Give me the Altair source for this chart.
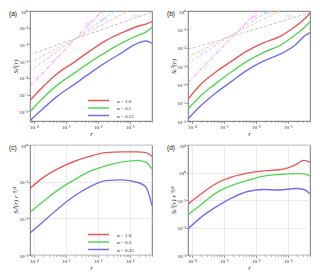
import altair as alt
import pandas as pd

# ---------------- data ----------------
r = [7.6e-5, 1.8e-4, 5.6e-4, 1.8e-3, 5.6e-3, 0.018, 0.056, 0.18, 0.32, 0.5]
series_names = ["α = 1.0", "α = 0.5", "α = 0.25"]
series_colors = ["#ee5656", "#55d655", "#6f6ff2"]

# (a) S_L^2(r)
a_red = [4.5e-6, 2.6e-5, 1.9e-4, 8.5e-4, 4.0e-3, 1.7e-2, 4.9e-2, 0.123, 0.166, 0.234]
a_green = [9.5e-7, 5.5e-6, 4.0e-5, 1.9e-4, 8.5e-4, 3.5e-3, 1.2e-2, 3.5e-2, 5.5e-2, 0.107]
a_blue = [2.8e-7, 1.3e-6, 8.5e-6, 4.0e-5, 1.9e-4, 8.5e-4, 3.2e-3, 1.2e-2, 1.6e-2, 1.2e-2]
# (b) S_T^2(r)
b_red = [1.5e-5, 9.1e-5, 4.7e-4, 1.9e-3, 6.9e-3, 1.9e-2, 4.0e-2, 0.151, 0.339, 0.759]
b_green = [4.5e-6, 2.2e-5, 1.1e-4, 5.0e-4, 1.9e-3, 5.6e-3, 1.3e-2, 5.2e-2, 0.117, 0.263]
b_blue = [1.3e-6, 6.2e-6, 3.4e-5, 1.5e-4, 6.2e-4, 1.9e-3, 4.3e-3, 1.5e-2, 4.0e-2, 6.6e-2]
# (c) S_L^2(r) r^-2/3
c_red = [0.065, 0.123, 0.224, 0.355, 0.49, 0.62, 0.65, 0.65, 0.62, 0.49]
c_green = [0.0145, 0.027, 0.059, 0.11, 0.19, 0.27, 0.34, 0.38, 0.34, 0.224]
c_blue = [0.004, 0.0076, 0.018, 0.04, 0.072, 0.107, 0.112, 0.095, 0.072, 0.0224]
# (d) S_T^2(r) r^-2/3
d_red = [0.071, 0.155, 0.39, 0.69, 0.95, 1.15, 1.26, 1.95, 2.75, 2.4]
d_green = [0.029, 0.063, 0.178, 0.34, 0.52, 0.74, 0.85, 0.91, 0.89, 0.74]
d_blue = [0.0089, 0.022, 0.055, 0.12, 0.204, 0.24, 0.23, 0.263, 0.24, 0.17]

# reference power-law guide lines (endpoints) and their labels
guide_labels = ["r²", "r⁴/³", "r", "r²/³"]
guide_colors = ["#ff77ff", "#a9d2ff", "#ffc796", "#c4c4c4"]
a_guide_x0 = [7.6e-5, 7.6e-5, 7.6e-5, 7.6e-5]
a_guide_y0 = [3.2e-5, 2.8e-4, 8.3e-4, 2.5e-3]
a_guide_x1 = [0.0135, 0.035, 0.091, 0.5]
a_guide_y1 = [1.0, 1.0, 1.0, 0.87]
a_glab_x = [0.0047, 0.015, 0.038, 0.15]
a_glab_y = [0.16, 0.31, 0.46, 0.51]
b_guide_x0 = [7.6e-5, 7.6e-5, 7.6e-5, 7.6e-5]
b_guide_y0 = [1.26e-4, 1.4e-3, 3.1e-3, 7.9e-3]
b_guide_x1 = [0.0115, 0.025, 0.056, 0.5]
b_guide_y1 = [1.0, 1.0, 1.0, 0.81]
b_glab_x = [0.0091, 0.024, 0.05, 0.11]
b_glab_y = [0.45, 0.76, 0.76, 0.55]

x_domain = [7.6e-5, 0.5]
x_ticks = [1e-4, 1e-3, 1e-2, 1e-1]
x_tick_labels = ["10⁻⁴", "10⁻³", "10⁻²", "10⁻¹"]
a_y_domain = [2.7e-7, 1.0]
b_y_domain = [1e-6, 1.0]
ab_y_ticks = [1e-6, 1e-5, 1e-4, 1e-3, 1e-2, 1e-1, 1.0]
ab_y_labels = ["10⁻⁶", "10⁻⁵", "10⁻⁴", "10⁻³", "10⁻²", "10⁻¹", "10⁰"]
c_y_domain = [1e-3, 1.0]
c_y_ticks = [1e-3, 1e-2, 1e-1, 1.0]
c_y_labels = ["10⁻³", "10⁻²", "10⁻¹", "10⁰"]
d_y_domain = [1e-3, 10.0]
d_y_ticks = [1e-3, 1e-2, 1e-1, 1.0, 10.0]
d_y_labels = ["10⁻³", "10⁻²", "10⁻¹", "10⁰", "10¹"]

titles = {
    "a": "Sₗ²(r)",
    "b": "Sₜ²(r)",
    "c": "Sₗ²(r) r⁻²/³",
    "d": "Sₜ²(r) r⁻²/³",
}

# ---------------- layout / style ----------------
W, H = 122, 110
SERIF = "Liberation Serif"


def label_expr(vals, labs):
    parts = [f"abs(datum.value - {v}) < {v * 1e-6} ? '{l}'" for v, l in zip(vals, labs)]
    return " : ".join(parts) + " : ''"


def major_test(vals):
    return " || ".join(f"abs(datum.value - {v}) < {v * 1e-6}" for v in vals)


x_all_ticks = []
for dec in [1e-5, 1e-4, 1e-3, 1e-2, 1e-1]:
    for k in range(1, 10):
        v = dec * k
        if x_domain[0] <= v <= x_domain[1]:
            x_all_ticks.append(v)


def panel(tag, ys, y_domain, y_ticks, y_labels, grid, guides=None, legend_xy=(69, 89)):
    rows = []
    for name, vals in zip(series_names, ys):
        for rv, yv in zip(r, vals):
            rows.append({"r": rv, "v": yv, "s": name})
    df = pd.DataFrame(rows)

    xax = alt.Axis(
        values=x_all_ticks,
        labelExpr=label_expr(x_ticks, x_tick_labels),
        title="r",
        tickSize={"condition": {"test": major_test(x_ticks), "value": 2.5}, "value": 1.2},
        grid=grid,
        gridOpacity={"condition": {"test": major_test(x_ticks), "value": 1}, "value": 0},
    )
    yax = alt.Axis(
        values=y_ticks,
        labelExpr=label_expr(y_ticks, y_labels),
        title=titles[tag],
        grid=grid,
    )
    xs = alt.Scale(type="log", domain=x_domain, nice=False)
    ysc = alt.Scale(type="log", domain=y_domain, nice=False)

    layers = []
    if guides is not None:
        gx0, gy0, gx1, gy1, lx, ly = guides
        for i in range(len(guide_labels)):
            gdf = pd.DataFrame({"r": [gx0[i], gx1[i]], "v": [gy0[i], gy1[i]]})
            dash = [4, 1.5, 1, 1.5] if i == 0 else [3, 2]
            layers.append(
                alt.Chart(gdf)
                .mark_line(clip=True, strokeDash=dash, strokeWidth=1, color=guide_colors[i])
                .encode(x=alt.X("r:Q", scale=xs, axis=xax), y=alt.Y("v:Q", scale=ysc, axis=yax))
            )
            tdf = pd.DataFrame({"r": [lx[i]], "v": [ly[i]], "t": [guide_labels[i]]})
            layers.append(
                alt.Chart(tdf)
                .mark_text(font=SERIF, fontStyle="italic", fontSize=6, color=guide_colors[i],
                           align="center", baseline="middle")
                .encode(x=alt.X("r:Q", scale=xs), y=alt.Y("v:Q", scale=ysc), text="t:N")
            )

    curves = (
        alt.Chart(df)
        .mark_line(strokeWidth=1.4, interpolate="monotone", clip=True)
        .encode(
            x=alt.X("r:Q", scale=xs, axis=xax),
            y=alt.Y("v:Q", scale=ysc, axis=yax),
            color=alt.Color(
                "s:N",
                scale=alt.Scale(domain=series_names, range=series_colors),
                sort=series_names,
                legend=alt.Legend(
                    title=None,
                    orient="none",
                    legendX=legend_xy[0],
                    legendY=legend_xy[1],
                    symbolType="M-7,0L7,0",
                    symbolSize=9,
                    symbolStrokeWidth=1.5,
                    labelFont=SERIF,
                    labelFontSize=5,
                    labelColor="#222",
                    labelOffset=16,
                    rowPadding=0.5,
                    padding=0,
                ),
            ),
        )
    )
    layers.append(curves)
    tag_df = pd.DataFrame({"t": [f"({tag})"]})
    layers.append(
        alt.Chart(tag_df)
        .mark_text(font="Liberation Sans", fontSize=6.5, align="left", baseline="top", fill="#111111")
        .encode(text="t:N", x=alt.value(-21), y=alt.value(0))
    )
    return alt.layer(*layers).properties(width=W, height=H)


pa = panel("a", [a_red, a_green, a_blue], a_y_domain, ab_y_ticks, ab_y_labels, False,
           (a_guide_x0, a_guide_y0, a_guide_x1, a_guide_y1, a_glab_x, a_glab_y), (66, 87))
pb = panel("b", [b_red, b_green, b_blue], b_y_domain, ab_y_ticks, ab_y_labels, False,
           (b_guide_x0, b_guide_y0, b_guide_x1, b_guide_y1, b_glab_x, b_glab_y), (78, 87))
pc = panel("c", [c_red, c_green, c_blue], c_y_domain, c_y_ticks, c_y_labels, True, None, (66, 87))
pd_ = panel("d", [d_red, d_green, d_blue], d_y_domain, d_y_ticks, d_y_labels, True, None, (76, 87))

chart = (
    alt.vconcat(
        alt.hconcat(pa, pb, spacing=13),
        alt.hconcat(pc, pd_, spacing=13),
        spacing=5,
    )
    .resolve_scale(color="independent", x="independent", y="independent")
    .properties(padding={"left": 0, "top": 0, "right": 0, "bottom": 0})
    .configure_view(stroke="#555555", strokeWidth=0.8)
    .configure_axis(
        labelFont=SERIF,
        labelFontSize=5,
        labelPadding=0.5,
        labelColor="#222",
        titleFont=SERIF,
        titleFontStyle="italic",
        titleFontWeight="normal",
        titleFontSize=7,
        titlePadding=0.5,
        titleColor="#222",
        domain=False,
        tickColor="#555",
        tickWidth=0.6,
        tickSize=2,
        gridColor="#e6e6e6",
        gridWidth=0.8,
        labelFlush=False,
        labelOverlap=False,
    )
)

chart.save("out.html", embed_options={"renderer": "svg", "actions": False})
